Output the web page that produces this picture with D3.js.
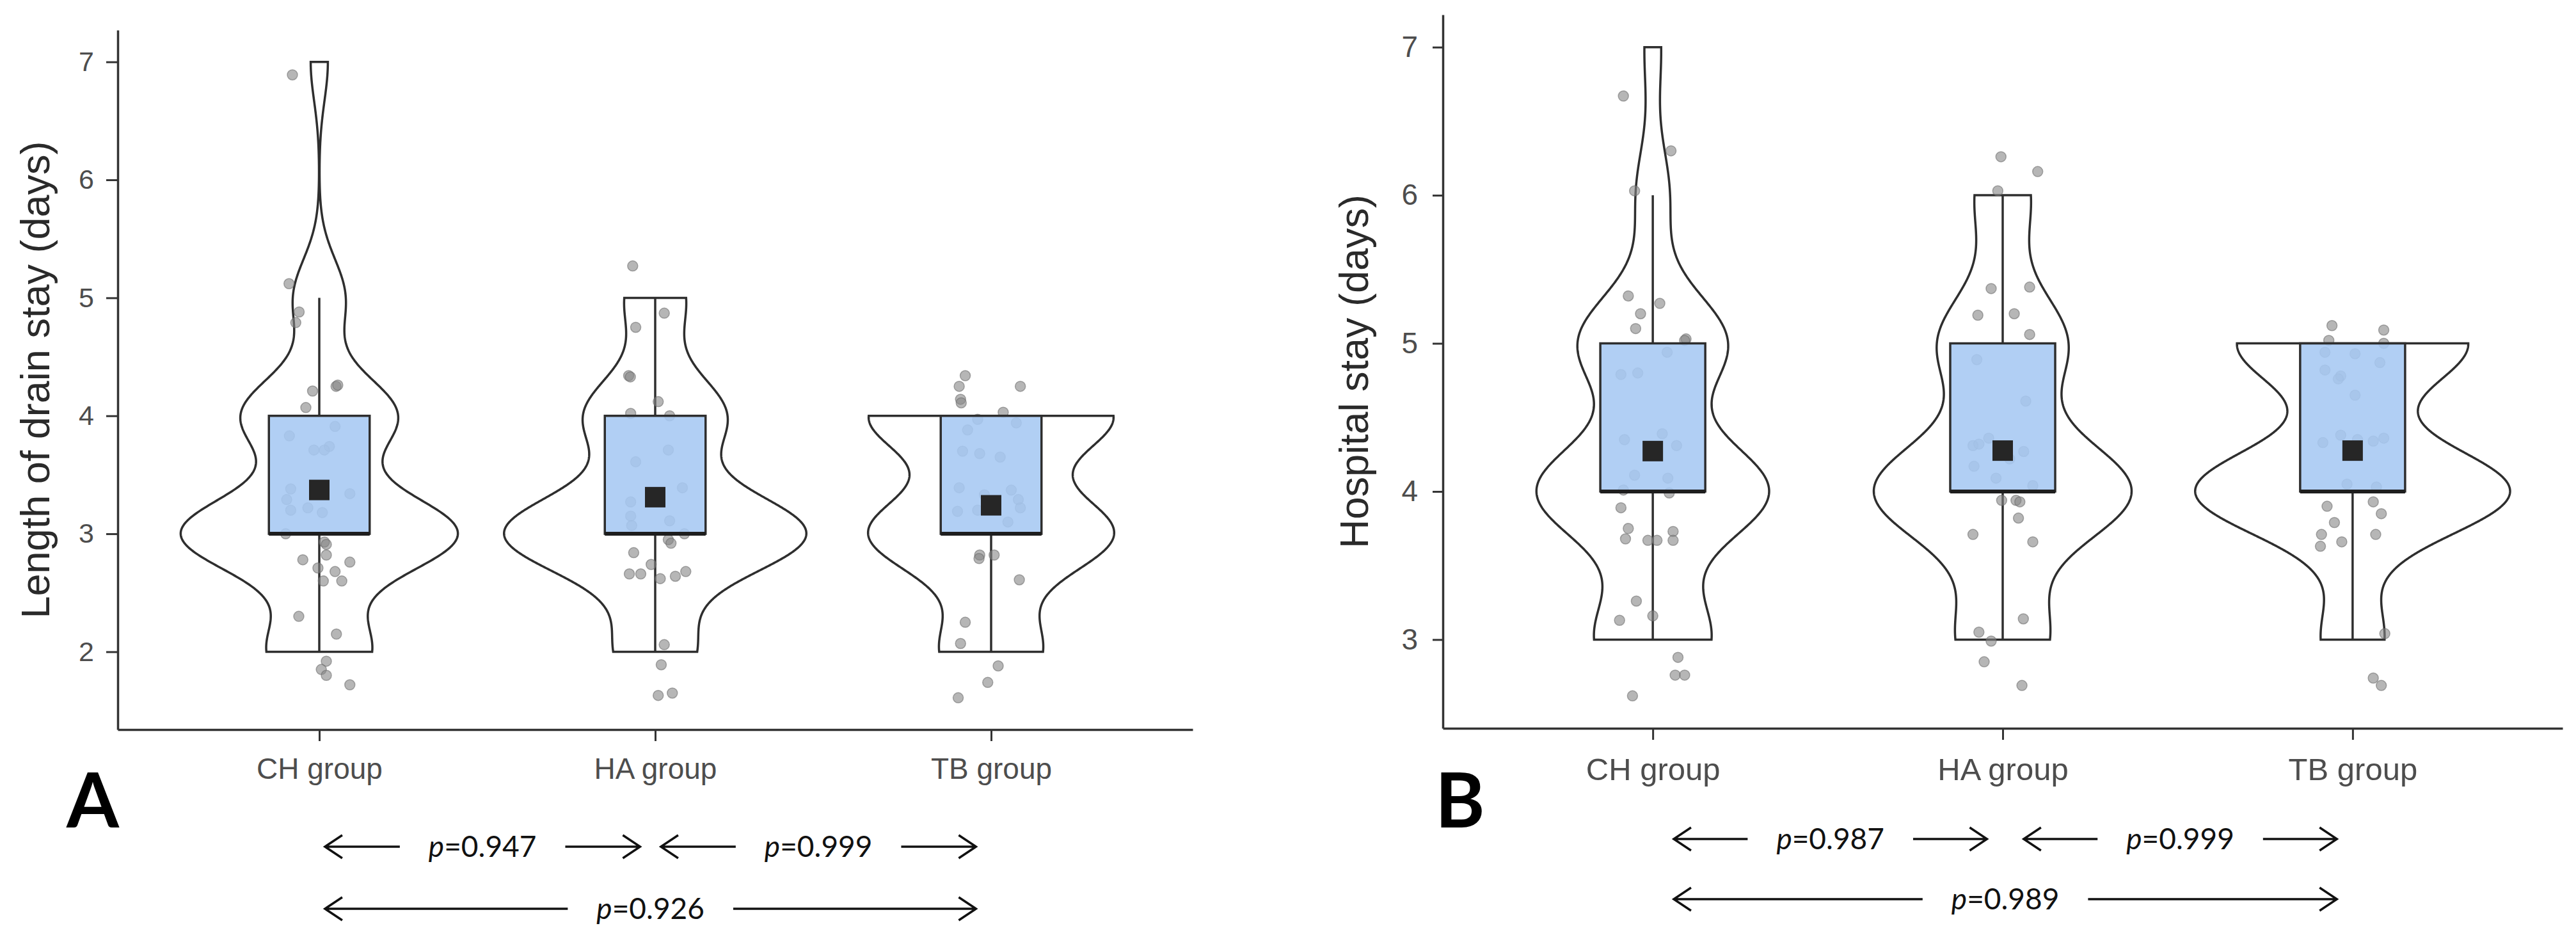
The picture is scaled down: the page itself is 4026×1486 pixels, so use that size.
<!DOCTYPE html>
<html>
<head>
<meta charset="utf-8">
<script src="https://cdn.jsdelivr.net/npm/d3@7/dist/d3.min.js"></script>
<style>
    body { margin: 0; background: #fff; }
</style>
</head>
<body>
<div id="chart"></div>
<script>
var groups = ["CH group", "HA group", "TB group"];

// jittered points: [x offset in category steps, value]
// (a few points hidden under the boxes are estimated)
var drainCH = [
    [-0.08, 6.89], [-0.09, 5.12], [-0.06, 4.88], [-0.07, 4.79], [-0.02, 4.21], [0.05, 4.25],
    [0.055, 4.26], [-0.04, 4.07], [0.047, 3.91], [-0.089, 3.83], [0.03, 3.74], [-0.016, 3.71],
    [0.015, 3.71], [-0.085, 3.38], [0.091, 3.34], [-0.097, 3.29], [-0.085, 3.20], [-0.034, 3.22],
    [0.009, 3.18], [-0.10, 3.00], [0.015, 2.93], [0.021, 2.91], [0.021, 2.82], [-0.049, 2.78],
    [0.091, 2.76], [-0.004, 2.71], [0.047, 2.68], [0.067, 2.60], [0.012, 2.60], [-0.061, 2.30],
    [0.051, 2.15], [0.021, 1.92], [0.006, 1.85], [0.021, 1.80], [0.091, 1.72]
];
var drainHA = [
    [-0.067, 5.27], [0.027, 4.87], [-0.058, 4.75], [-0.079, 4.34], [-0.074, 4.33], [0.009, 4.12],
    [-0.073, 4.02], [0.043, 4.00], [0.039, 3.71], [-0.058, 3.61], [0.081, 3.39], [-0.073, 3.27],
    [-0.073, 3.15], [0.043, 3.11], [-0.070, 3.07], [0.039, 2.95], [0.047, 2.92], [0.087, 3.00],
    [-0.064, 2.84], [-0.012, 2.74], [-0.077, 2.66], [-0.043, 2.66], [0.015, 2.62], [0.060, 2.64],
    [0.091, 2.68], [0.027, 2.06], [0.018, 1.89], [0.009, 1.63], [0.051, 1.65]
];
var drainTB = [
    [-0.077, 4.34], [-0.095, 4.25], [-0.091, 4.14], [-0.089, 4.11], [0.087, 4.25], [0.036, 4.03],
    [-0.040, 3.97], [0.075, 3.94], [-0.070, 3.88], [-0.085, 3.70], [-0.034, 3.68], [0.027, 3.65],
    [-0.095, 3.39], [0.081, 3.29], [0.087, 3.22], [-0.10, 3.19], [-0.040, 3.20], [-0.034, 2.82],
    [-0.036, 2.79], [0.009, 2.82], [0.084, 2.61], [-0.077, 2.25], [-0.091, 2.07], [0.021, 1.88],
    [-0.010, 1.74], [-0.098, 1.61], [0.05, 3.10], [-0.02, 3.33], [0.06, 3.37]
];
var hospCH = [
    [-0.084, 6.67], [0.052, 6.30], [-0.052, 6.03], [-0.070, 5.32], [0.020, 5.27], [-0.035, 5.20],
    [-0.049, 5.10], [0.095, 5.03], [0.091, 5.02], [0.041, 4.94], [-0.091, 4.79], [-0.043, 4.80],
    [0.027, 4.39], [-0.081, 4.35], [0.068, 4.31], [-0.052, 4.11], [0.043, 4.09], [-0.084, 4.01],
    [0.047, 3.99], [-0.091, 3.89], [-0.070, 3.75], [-0.078, 3.68], [-0.014, 3.67], [0.012, 3.67],
    [0.058, 3.73], [0.058, 3.67], [-0.047, 3.26], [-0.095, 3.13], [0.0, 3.16], [0.072, 2.88],
    [0.064, 2.76], [0.091, 2.76], [-0.058, 2.62]
];
var hospHA = [
    [-0.005, 6.26], [0.10, 6.16], [-0.014, 6.03], [-0.033, 5.37], [0.077, 5.38], [-0.071, 5.19],
    [0.033, 5.20], [0.077, 5.06], [-0.074, 4.89], [0.066, 4.61], [-0.085, 4.31], [-0.068, 4.32],
    [-0.082, 4.17], [-0.019, 4.09], [0.086, 4.04], [-0.003, 3.94], [0.038, 3.94], [0.049, 3.93],
    [0.045, 3.82], [-0.085, 3.71], [0.086, 3.66], [0.059, 3.14], [-0.068, 3.05], [-0.033, 2.99],
    [-0.053, 2.85], [0.055, 2.69], [0.02, 4.22], [-0.04, 4.36], [0.06, 4.27]
];
var hospTB = [
    [-0.059, 5.12], [0.089, 5.09], [-0.068, 5.02], [0.089, 5.00], [-0.079, 4.94], [0.007, 4.93],
    [0.078, 4.87], [-0.079, 4.82], [-0.034, 4.78], [-0.041, 4.76], [0.007, 4.65], [-0.034, 4.38],
    [-0.085, 4.33], [0.014, 4.35], [0.059, 4.34], [0.089, 4.36], [-0.016, 4.05], [0.068, 4.03],
    [-0.073, 3.90], [0.059, 3.93], [-0.052, 3.79], [0.082, 3.85], [-0.089, 3.71], [0.066, 3.71],
    [-0.031, 3.66], [-0.092, 3.63], [0.092, 3.04], [0.059, 2.74], [0.082, 2.69]
];

var drainTicks = [2, 3, 4, 5, 6, 7];
var hospTicks = [3, 4, 5, 6, 7];

var drainP = [
    { from: "CH group", to: "HA group", p: "0.947", row: 0 },
    { from: "HA group", to: "TB group", p: "0.999", row: 0 },
    { from: "CH group", to: "TB group", p: "0.926", row: 1 }
];
var hospP = [
    { from: "CH group", to: "HA group", p: "0.987", row: 0 },
    { from: "HA group", to: "TB group", p: "0.999", row: 0 },
    { from: "CH group", to: "TB group", p: "0.989", row: 1 }
];

var svgWidth = 4026;
var svgHeight = 1486;

var svg = d3.select("#chart")
    .append("svg")
    .attr("width", svgWidth)
    .attr("height", svgHeight)
    .style("display", "block");

svg.append("rect")
    .attr("width", svgWidth)
    .attr("height", svgHeight)
    .attr("fill", "#fff");

var panels = [
    {
        letter: "A", title: "Length of drain stay (days)", series: [drainCH, drainHA, drainTB],
        ticks: drainTicks, comps: drainP,
        left: 184, right: 1864, top: 47, bottom: 1140,
        tickFont: 43, labelFont: 46, yTick: 18, yPad: 19, xTick: 18, xPad: 26,
        titleX: 77, letterX: 104, rows: [1323, 1420], arrowStart: 0.017, arrowEnd: 0.045
    },
    {
        letter: "B", title: "Hospital stay (days)", series: [hospCH, hospHA, hospTB],
        ticks: hospTicks, comps: hospP,
        left: 2255, right: 4005, top: 23, bottom: 1138,
        tickFont: 46, labelFont: 49, yTick: 16, yPad: 23, xTick: 18, xPad: 28,
        titleX: 2138, letterX: 2243, rows: [1311, 1405], arrowStart: 0.06, arrowEnd: 0.045
    }
];

// bandwidth like R's bw.nrd0
function nrd0(v)
{
    var s = v.slice().sort(d3.ascending);
    var iqr = d3.quantileSorted(s, 0.75) - d3.quantileSorted(s, 0.25);
    var lo = Math.min(d3.deviation(s), iqr / 1.34);
    return 0.9 * lo * Math.pow(s.length, -0.2);
}

function kde(v, bw)
{
    var mn = d3.min(v), mx = d3.max(v);
    return d3.range(512).map(i =>
    {
        var t = mn + (mx - mn) * i / 511;
        var d = d3.mean(v, x => Math.exp(-0.5 * Math.pow((t - x) / bw, 2))) / (bw * Math.sqrt(2 * Math.PI));
        return [t, d];
    });
}

function drawPanel(cfg)
{
    var g = svg.append("g");

    var x = d3.scalePoint()
        .domain(groups)
        .range([cfg.left, cfg.right])
        .padding(0.6);
    var step = x.step();

    var stats = cfg.series.map((pts, i) =>
    {
        var vals = pts.map(p => Math.round(p[1]));
        var s = vals.slice().sort(d3.ascending);
        var q1 = d3.quantileSorted(s, 0.25);
        var med = d3.quantileSorted(s, 0.5);
        var q3 = d3.quantileSorted(s, 0.75);
        var iqr = q3 - q1;
        return {
            group: groups[i], pts: pts, vals: s,
            q1: q1, med: med, q3: q3,
            lo: d3.min(s.filter(v => v >= q1 - 1.5 * iqr)),
            hi: d3.max(s.filter(v => v <= q3 + 1.5 * iqr)),
            mean: d3.mean(s),
            dens: kde(s, nrd0(s))
        };
    });

    var allVals = stats.flatMap(d => d.vals.concat(d.pts.map(p => p[1])));
    var ext = d3.extent(allVals);
    var pad = (ext[1] - ext[0]) * 0.05;

    var y = d3.scaleLinear()
        .domain([ext[0] - pad, ext[1] + pad])
        .range([cfg.bottom, cfg.top]);

    var maxD = d3.max(stats, d => d3.max(d.dens, e => e[1]));
    var w = d3.scaleLinear().domain([0, maxD]).range([0, 0.45 * step]);

    // violins
    stats.forEach(d =>
    {
        var cx = x(d.group);
        var area = d3.area()
            .y(e => y(e[0]))
            .x0(e => cx - w(e[1]))
            .x1(e => cx + w(e[1]));
        g.append("path")
            .attr("d", area(d.dens))
            .attr("fill", "#fff")
            .attr("stroke", "#2e2e2e")
            .attr("stroke-width", 3.5);
    });

    // whiskers
    stats.forEach(d =>
    {
        var cx = x(d.group);
        g.append("line")
            .attr("x1", cx).attr("x2", cx)
            .attr("y1", y(d.hi)).attr("y2", y(d.q3))
            .attr("stroke", "#2e2e2e").attr("stroke-width", 3.5);
        g.append("line")
            .attr("x1", cx).attr("x2", cx)
            .attr("y1", y(d.q1)).attr("y2", y(d.lo))
            .attr("stroke", "#2e2e2e").attr("stroke-width", 3.5);
    });

    // jittered points
    stats.forEach(d =>
    {
        g.append("g")
            .selectAll("circle")
            .data(d.pts)
            .enter()
            .append("circle")
            .attr("cx", p => x(d.group) + p[0] * step)
            .attr("cy", p => y(p[1]))
            .attr("r", 8)
            .attr("fill", "#868686")
            .attr("fill-opacity", 0.6)
            .attr("stroke", "#6a6a6a")
            .attr("stroke-opacity", 0.55)
            .attr("stroke-width", 1.5);
    });

    // boxes
    var bw = 0.3 * step;
    stats.forEach(d =>
    {
        var cx = x(d.group);
        g.append("rect")
            .attr("x", cx - bw / 2)
            .attr("y", y(d.q3))
            .attr("width", bw)
            .attr("height", y(d.q1) - y(d.q3))
            .attr("fill", "#a6c8f2")
            .attr("fill-opacity", 0.88)
            .attr("stroke", "#2e2e2e")
            .attr("stroke-width", 3.5);
        g.append("line")
            .attr("x1", cx - bw / 2).attr("x2", cx + bw / 2)
            .attr("y1", y(d.med)).attr("y2", y(d.med))
            .attr("stroke", "#1e1e1e").attr("stroke-width", 6);
        g.append("rect")
            .attr("x", cx - 16)
            .attr("y", y(d.mean) - 16)
            .attr("width", 32)
            .attr("height", 32)
            .attr("fill", "#262626");
    });

    // axes
    var yAxis = g.append("g")
        .attr("transform", `translate(${cfg.left}, 0)`)
        .call(d3.axisLeft(y)
            .tickValues(cfg.ticks)
            .tickFormat(d3.format("d"))
            .tickSize(cfg.yTick)
            .tickSizeOuter(0)
            .tickPadding(cfg.yPad));

    var xAxis = g.append("g")
        .attr("transform", `translate(0, ${cfg.bottom})`)
        .call(d3.axisBottom(x)
            .tickSize(cfg.xTick)
            .tickSizeOuter(0)
            .tickPadding(cfg.xPad));

    [yAxis, xAxis].forEach(a =>
    {
        a.select(".domain").attr("stroke", "#333").attr("stroke-width", 3.5);
        a.selectAll(".tick line").attr("stroke", "#333").attr("stroke-width", 3);
        a.selectAll(".tick text")
            .attr("fill", "#4d4d4d")
            .style("font-family", "'Liberation Sans', Arial, sans-serif");
    });
    yAxis.selectAll(".tick text").style("font-size", cfg.tickFont + "px");
    xAxis.selectAll(".tick text").style("font-size", cfg.labelFont + "px");

    g.append("text")
        .attr("transform", `translate(${cfg.titleX}, ${(cfg.top + cfg.bottom) / 2}) rotate(-90)`)
        .attr("text-anchor", "middle")
        .style("font-family", "'Liberation Sans', Arial, sans-serif")
        .style("font-size", "63px")
        .attr("fill", "#2a2a2a")
        .text(cfg.title);

    g.append("text")
        .attr("x", cfg.letterX)
        .attr("y", 1293)
        .style("font-family", "Lato, sans-serif")
        .style("font-weight", 700)
        .style("font-size", "118px")
        .attr("fill", "#000")
        .text(cfg.letter);

    // comparison arrows with p values
    cfg.comps.forEach(c =>
    {
        var xa = x(c.from) + cfg.arrowStart * step;
        var xb = x(c.to) - cfg.arrowEnd * step;
        var ay = cfg.rows[c.row];
        var mid = (xa + xb) / 2;

        var t = g.append("text")
            .attr("x", mid)
            .attr("y", ay + 16)
            .attr("text-anchor", "middle")
            .style("font-family", "Lato, sans-serif")
            .style("font-size", "46px")
            .attr("fill", "#111");
        t.append("tspan").style("font-style", "italic").text("p");
        t.append("tspan").text("=" + c.p);
        var tw = t.node().getComputedTextLength();
        var gap = 45;

        g.append("path")
            .attr("d", `M${xa + 27},${ay - 18}L${xa},${ay}L${xa + 27},${ay + 18}M${xa},${ay}L${mid - tw / 2 - gap},${ay}`)
            .attr("fill", "none").attr("stroke", "#111").attr("stroke-width", 3.5);
        g.append("path")
            .attr("d", `M${mid + tw / 2 + gap},${ay}L${xb},${ay}M${xb - 27},${ay - 18}L${xb},${ay}L${xb - 27},${ay + 18}`)
            .attr("fill", "none").attr("stroke", "#111").attr("stroke-width", 3.5);
    });
}

panels.forEach(drawPanel);
</script>
</body>
</html>
